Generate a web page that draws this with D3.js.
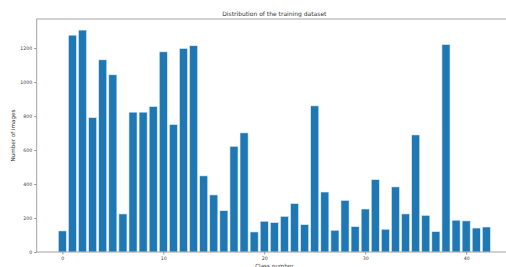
<!DOCTYPE html>
<html>
<head>
<meta charset="utf-8">
<script src="https://cdn.jsdelivr.net/npm/d3@7"></script>
<style>
  html, body { margin: 0; background: #fff; overflow: hidden; }
  svg { display: block; overflow: hidden; }
  text { font-family: "DejaVu Sans", sans-serif; }
</style>
</head>
<body>
<div id="chart"></div>
<script>
// class ids and image counts
const classes = d3.range(43);
const counts = [
    124, 1276, 1306, 791, 1131, 1043, 224, 823, 823, 856,
    1178, 750, 1198, 1214, 448, 336, 243, 622, 701, 118,
    181, 173, 210, 285, 161, 860, 353, 128, 304, 149,
    253, 426, 134, 383, 224, 689, 216, 120, 1221, 187,
    183, 141, 147
];
const xTicks = [0, 10, 20, 30, 40];
const yTicks = [0, 200, 400, 600, 800, 1000, 1200];

const width = 506, height = 267;
const margin = {top: 19, right: -6, bottom: 15, left: 36.7};
const barWidth = 0.8;

const svg = d3.select("#chart")
    .append("svg")
    .attr("width", width)
    .attr("height", height);

// matplotlib style padding: 5% of the bar span on each side
const lo = -barWidth / 2, hi = classes.length - 1 + barWidth / 2;
const pad = (hi - lo) * 0.05;

const xScale = d3.scaleLinear()
    .domain([lo - pad, hi + pad])
    .range([margin.left, width - margin.right]);

const yScale = d3.scaleLinear()
    .domain([0, d3.max(counts) * 1.05])
    .range([height - margin.bottom, margin.top]);

const data = classes.map((c, i) => ({c: c, v: counts[i]}));

svg.selectAll("rect.bar")
    .data(data)
    .enter()
    .append("rect")
        .attr("class", "bar")
        .attr("x", d => xScale(d.c - barWidth / 2))
        .attr("y", d => yScale(d.v))
        .attr("width", d => xScale(d.c + barWidth / 2) - xScale(d.c - barWidth / 2))
        .attr("height", d => yScale(0) - yScale(d.v))
        .attr("fill", "#1f77b4")
        .attr("stroke", "#dff0fb")
        .attr("stroke-width", 0.6);

// axes
const xAxis = svg.append("g")
    .attr("transform", `translate(0, ${yScale(0)})`)
    .call(d3.axisBottom(xScale).tickValues(xTicks).tickFormat(d3.format("d")).tickSize(2.5).tickPadding(2));

const yAxis = svg.append("g")
    .attr("transform", `translate(${margin.left}, 0)`)
    .call(d3.axisLeft(yScale).tickValues(yTicks).tickFormat(d3.format("d")).tickSize(2.5).tickPadding(2));

[xAxis, yAxis].forEach(a => {
    a.select(".domain").remove();
    a.selectAll("line").attr("stroke", "#666").attr("stroke-width", 0.7);
    a.selectAll("text").attr("fill", "#444").style("font-size", "4.7px");
});

// spines; the right one lies past the edge of the picture
const x0 = xScale.range()[0], x1 = xScale.range()[1];
svg.append("path")
    .attr("d", `M${x1},${margin.top}H${x0}V${yScale(0)}H${x1}`)
    .attr("fill", "none")
    .attr("stroke", "#999").attr("stroke-width", 0.9);

const midX = (x0 + x1) / 2;

svg.append("text")
    .attr("x", midX)
    .attr("y", 16)
    .attr("text-anchor", "middle")
    .attr("fill", "#333")
    .style("font-size", "6px")
    .text("Distribution of the training dataset");

svg.append("text")
    .attr("x", midX)
    .attr("y", 267.5)
    .attr("text-anchor", "middle")
    .attr("fill", "#333")
    .style("font-size", "5.6px")
    .text("Class number");

svg.append("text")
    .attr("transform", `translate(14.5, ${(margin.top + yScale(0)) / 2}) rotate(-90)`)
    .attr("text-anchor", "middle")
    .attr("fill", "#333")
    .style("font-size", "5.6px")
    .text("Number of images");
</script>
</body>
</html>
